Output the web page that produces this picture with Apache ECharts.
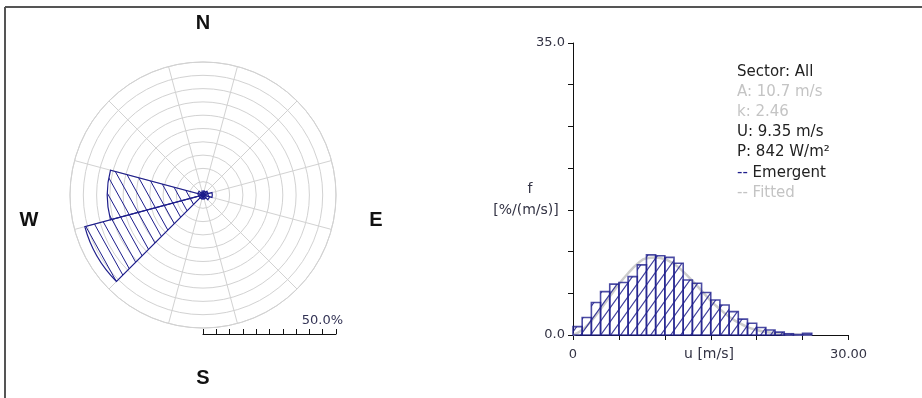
<!DOCTYPE html>
<html>
<head>
<meta charset="utf-8">
<title>Wind climate: sector All</title>
<script src="https://cdn.jsdelivr.net/npm/echarts@6/dist/echarts.min.js"></script>
<style>
  html, body { margin: 0; padding: 0; background: #ffffff; }
  #chart { width: 922px; height: 398px; }
</style>
</head>
<body>
<div id="chart"></div>
<script>
// Wind rose: 12 direction sectors, frequency in percent
const sectorNames = ['N', 'NNE', 'ENE', 'E', 'ESE', 'SSE', 'S', 'SSW', 'WSW', 'W', 'WNW', 'NNW'];
const sectorFreq  = [1.5, 1.5, 2.0, 3.5, 2.5, 1.5, 1.5, 1.5, 46.0, 36.0, 2.0, 1.0];

// Radius scale of the rose (percent)
const roseMax = 50;
const roseStep = 5;
const roseScaleLabel = '50.0%';

// Speed histogram: lower edge of each 1 m/s bin and observed frequency [%/(m/s)]
const binStart     = [0, 1, 2, 3, 4, 5, 6, 7, 8, 9, 10, 11, 12, 13, 14, 15, 16, 17, 18, 19, 20, 21, 22, 23, 24, 25];
const emergentFreq = [1.0, 2.1, 3.9, 5.2, 6.1, 6.3, 7.0, 8.4, 9.6, 9.5, 9.3, 8.6, 6.6, 6.2, 5.1, 4.2, 3.6, 2.8, 1.9, 1.4, 0.9, 0.6, 0.35, 0.15, 0.05, 0.2];

// Fitted curve read along the speed axis
const fittedSpeed = [0, 1, 2, 3, 4, 5, 6, 7, 8, 9, 10, 11, 12, 13, 14, 15, 16, 17, 18, 19, 20, 21, 22, 23, 24, 25, 26];
const fittedFreq  = [0, 0.6, 1.7, 3.1, 4.6, 6.1, 7.4, 8.5, 9.2, 9.3, 9.1, 8.5, 7.6, 6.5, 5.3, 4.1, 3.1, 2.2, 1.5, 0.95, 0.6, 0.35, 0.2, 0.1, 0.05, 0.02, 0];

// Axis limits and tick labels
const speedMax = 30;
const speedStep = 5;
const freqMax = 35;
const freqStep = 5;
const speedTickLabels = { 0: '0', 30: '30.00' };
const freqTickLabels  = { 0: '0.0', 35: '35.0' };
const speedAxisName = 'u [m/s]';
const freqAxisName = ['f', '[%/(m/s)]'];

// Statistics block
const statLines = [
  { text: 'Sector: All', color: '#222222' },
  { text: 'A: 10.7 m/s', color: '#c4c4c4' },
  { text: 'k: 2.46', color: '#c4c4c4' },
  { text: 'U: 9.35 m/s', color: '#222222' },
  { text: 'P: 842 W/m\u00b2', color: '#222222' }
];

const navy = '#1e1e8c';
const gridGrey = '#d2d2d2';
const smallFont = 'DejaVu Sans, Verdana, sans-serif';
const bigFont = 'Liberation Sans, Arial, sans-serif';
const textGrey = '#333344';

// Diagonal hatch tile; dir = 1 draws '/', dir = -1 draws '\'
function hatch(w, h, dir, color, lw) {
  const c = document.createElement('canvas');
  c.width = w; c.height = h;
  const g = c.getContext('2d');
  g.strokeStyle = color;
  g.lineWidth = lw;
  g.beginPath();
  for (let k = -1; k <= 1; k++) {
    if (dir > 0) {
      g.moveTo(k * w - 1, h + h / w);
      g.lineTo(k * w + w + 1, -h / w);
    } else {
      g.moveTo(k * w - 1, -h / w);
      g.lineTo(k * w + w + 1, h + h / w);
    }
  }
  g.stroke();
  return { image: c, repeat: 'repeat' };
}

const roseHatch = hatch(10, 18, -1, navy, 1);
const histHatch = hatch(10, 14, 1, 'rgba(30,30,140,0.85)', 1.2);

const chart = echarts.init(document.getElementById('chart'), null, { renderer: 'canvas' });

const histData = binStart.map((s, i) => [s, emergentFreq[i]]);
const fitData = fittedSpeed.map((s, i) => [s, fittedFreq[i]]);

const option = {
  animation: false,
  backgroundColor: '#ffffff',
  polar: { center: [203, 195], radius: 133 },
  angleAxis: {
    type: 'category',
    data: sectorNames,
    startAngle: 105,
    clockwise: true,
    boundaryGap: true,
    axisLine: { show: true, lineStyle: { color: gridGrey, width: 1 } },
    axisTick: { show: false },
    axisLabel: { show: false },
    splitLine: { show: true, lineStyle: { color: gridGrey, width: 1 } }
  },
  radiusAxis: {
    type: 'value',
    min: 0,
    max: roseMax,
    interval: roseStep,
    axisLine: { show: false },
    axisTick: { show: false },
    axisLabel: { show: false },
    splitLine: { show: true, lineStyle: { color: gridGrey, width: 1 } }
  },
  grid: [
    // speed histogram
    { left: 573, top: 43, width: 275.5, height: 292, containLabel: false },
    // radial scale bar under the rose
    { left: 203, top: 300, width: 133, height: 34, containLabel: false }
  ],
  xAxis: [
    {
      gridIndex: 0,
      type: 'value',
      min: 0,
      max: speedMax,
      interval: speedStep,
      axisLine: { show: true, lineStyle: { color: '#111111', width: 1 } },
      axisTick: { show: true, inside: false, length: 5, lineStyle: { color: '#111111' } },
      axisLabel: {
        show: true,
        margin: 13,
        fontFamily: smallFont,
        fontSize: 13,
        color: textGrey,
        formatter: v => speedTickLabels[v] !== undefined ? speedTickLabels[v] : ''
      },
      splitLine: { show: false }
    },
    {
      gridIndex: 1,
      type: 'value',
      min: 0,
      max: roseMax,
      interval: roseStep,
      position: 'bottom',
      axisLine: { show: true, lineStyle: { color: '#111111', width: 1 } },
      axisTick: { show: true, inside: true, length: 5, lineStyle: { color: '#111111' } },
      axisLabel: { show: false },
      splitLine: { show: false }
    }
  ],
  yAxis: [
    {
      gridIndex: 0,
      type: 'value',
      min: 0,
      max: freqMax,
      interval: freqStep,
      axisLine: { show: true, lineStyle: { color: '#111111', width: 1 } },
      axisTick: { show: true, inside: false, length: 5, lineStyle: { color: '#111111' } },
      axisLabel: {
        show: true,
        margin: 8,
        fontFamily: smallFont,
        fontSize: 13,
        color: textGrey,
        formatter: v => freqTickLabels[v] !== undefined ? freqTickLabels[v] : ''
      },
      splitLine: { show: false }
    },
    {
      gridIndex: 1,
      type: 'value',
      show: false,
      min: 0,
      max: 1
    }
  ],
  series: [
    {
      name: 'Rose',
      type: 'bar',
      coordinateSystem: 'polar',
      data: sectorFreq,
      barCategoryGap: '0%',
      itemStyle: { color: roseHatch, borderColor: navy, borderWidth: 1.2 },
      z: 3
    },
    {
      name: 'Fitted',
      type: 'line',
      xAxisIndex: 0,
      yAxisIndex: 0,
      data: fitData,
      smooth: true,
      showSymbol: false,
      symbol: 'none',
      lineStyle: { color: '#cccccc', width: 2.5 },
      z: 2
    },
    {
      name: 'Emergent',
      type: 'custom',
      xAxisIndex: 0,
      yAxisIndex: 0,
      data: histData,
      renderItem: function (params, api) {
        const s = api.value(0);
        const v = api.value(1);
        const top = api.coord([s, v]);
        const base = api.coord([s + 1, 0]);
        return {
          type: 'rect',
          shape: { x: top[0], y: top[1], width: base[0] - top[0], height: base[1] - top[1] },
          style: { fill: histHatch, stroke: 'rgba(30,30,140,0.8)', lineWidth: 1.6 }
        };
      },
      z: 3
    }
  ],
  graphic: [
    // frame
    { type: 'line', shape: { x1: 5, y1: 7, x2: 922, y2: 7 }, style: { stroke: '#555555', lineWidth: 2 } },
    { type: 'line', shape: { x1: 5, y1: 7, x2: 5, y2: 398 }, style: { stroke: '#555555', lineWidth: 2 } },
    // compass letters
    { type: 'text', x: 203, y: 23, style: { text: 'N', font: 'bold 20px ' + bigFont, fill: '#111111', align: 'center', verticalAlign: 'middle' } },
    { type: 'text', x: 203, y: 378, style: { text: 'S', font: 'bold 20px ' + bigFont, fill: '#111111', align: 'center', verticalAlign: 'middle' } },
    { type: 'text', x: 29, y: 220, style: { text: 'W', font: 'bold 20px ' + bigFont, fill: '#111111', align: 'center', verticalAlign: 'middle' } },
    { type: 'text', x: 376, y: 220, style: { text: 'E', font: 'bold 20px ' + bigFont, fill: '#111111', align: 'center', verticalAlign: 'middle' } },
    // scale bar value
    { type: 'text', x: 343, y: 321, style: { text: roseScaleLabel, font: '13px ' + smallFont, fill: '#333355', align: 'right', verticalAlign: 'middle' } },
    // histogram axis names
    { type: 'text', x: 709, y: 354, style: { text: speedAxisName, font: '14px ' + smallFont, fill: textGrey, align: 'center', verticalAlign: 'middle' } },
    { type: 'text', x: 530, y: 189, style: { text: freqAxisName[0], font: '14px ' + smallFont, fill: textGrey, align: 'center', verticalAlign: 'middle' } },
    { type: 'text', x: 526, y: 210, style: { text: freqAxisName[1], font: '14px ' + smallFont, fill: textGrey, align: 'center', verticalAlign: 'middle' } },
    // statistics block
    ...statLines.map((l, i) => ({
      type: 'text', x: 737, y: 72 + i * 20,
      style: { text: l.text, font: '15px ' + smallFont, fill: l.color, align: 'left', verticalAlign: 'middle' }
    })),
    {
      type: 'text', x: 737, y: 173,
      style: {
        text: '{d|--} Emergent',
        font: '15px ' + smallFont, fill: '#222222', align: 'left', verticalAlign: 'middle',
        rich: { d: { fill: navy, font: '15px ' + smallFont } }
      }
    },
    {
      type: 'text', x: 737, y: 193,
      style: { text: '-- Fitted', font: '15px ' + smallFont, fill: '#c4c4c4', align: 'left', verticalAlign: 'middle' }
    }
  ]
};

chart.setOption(option);
</script>
</body>
</html>
